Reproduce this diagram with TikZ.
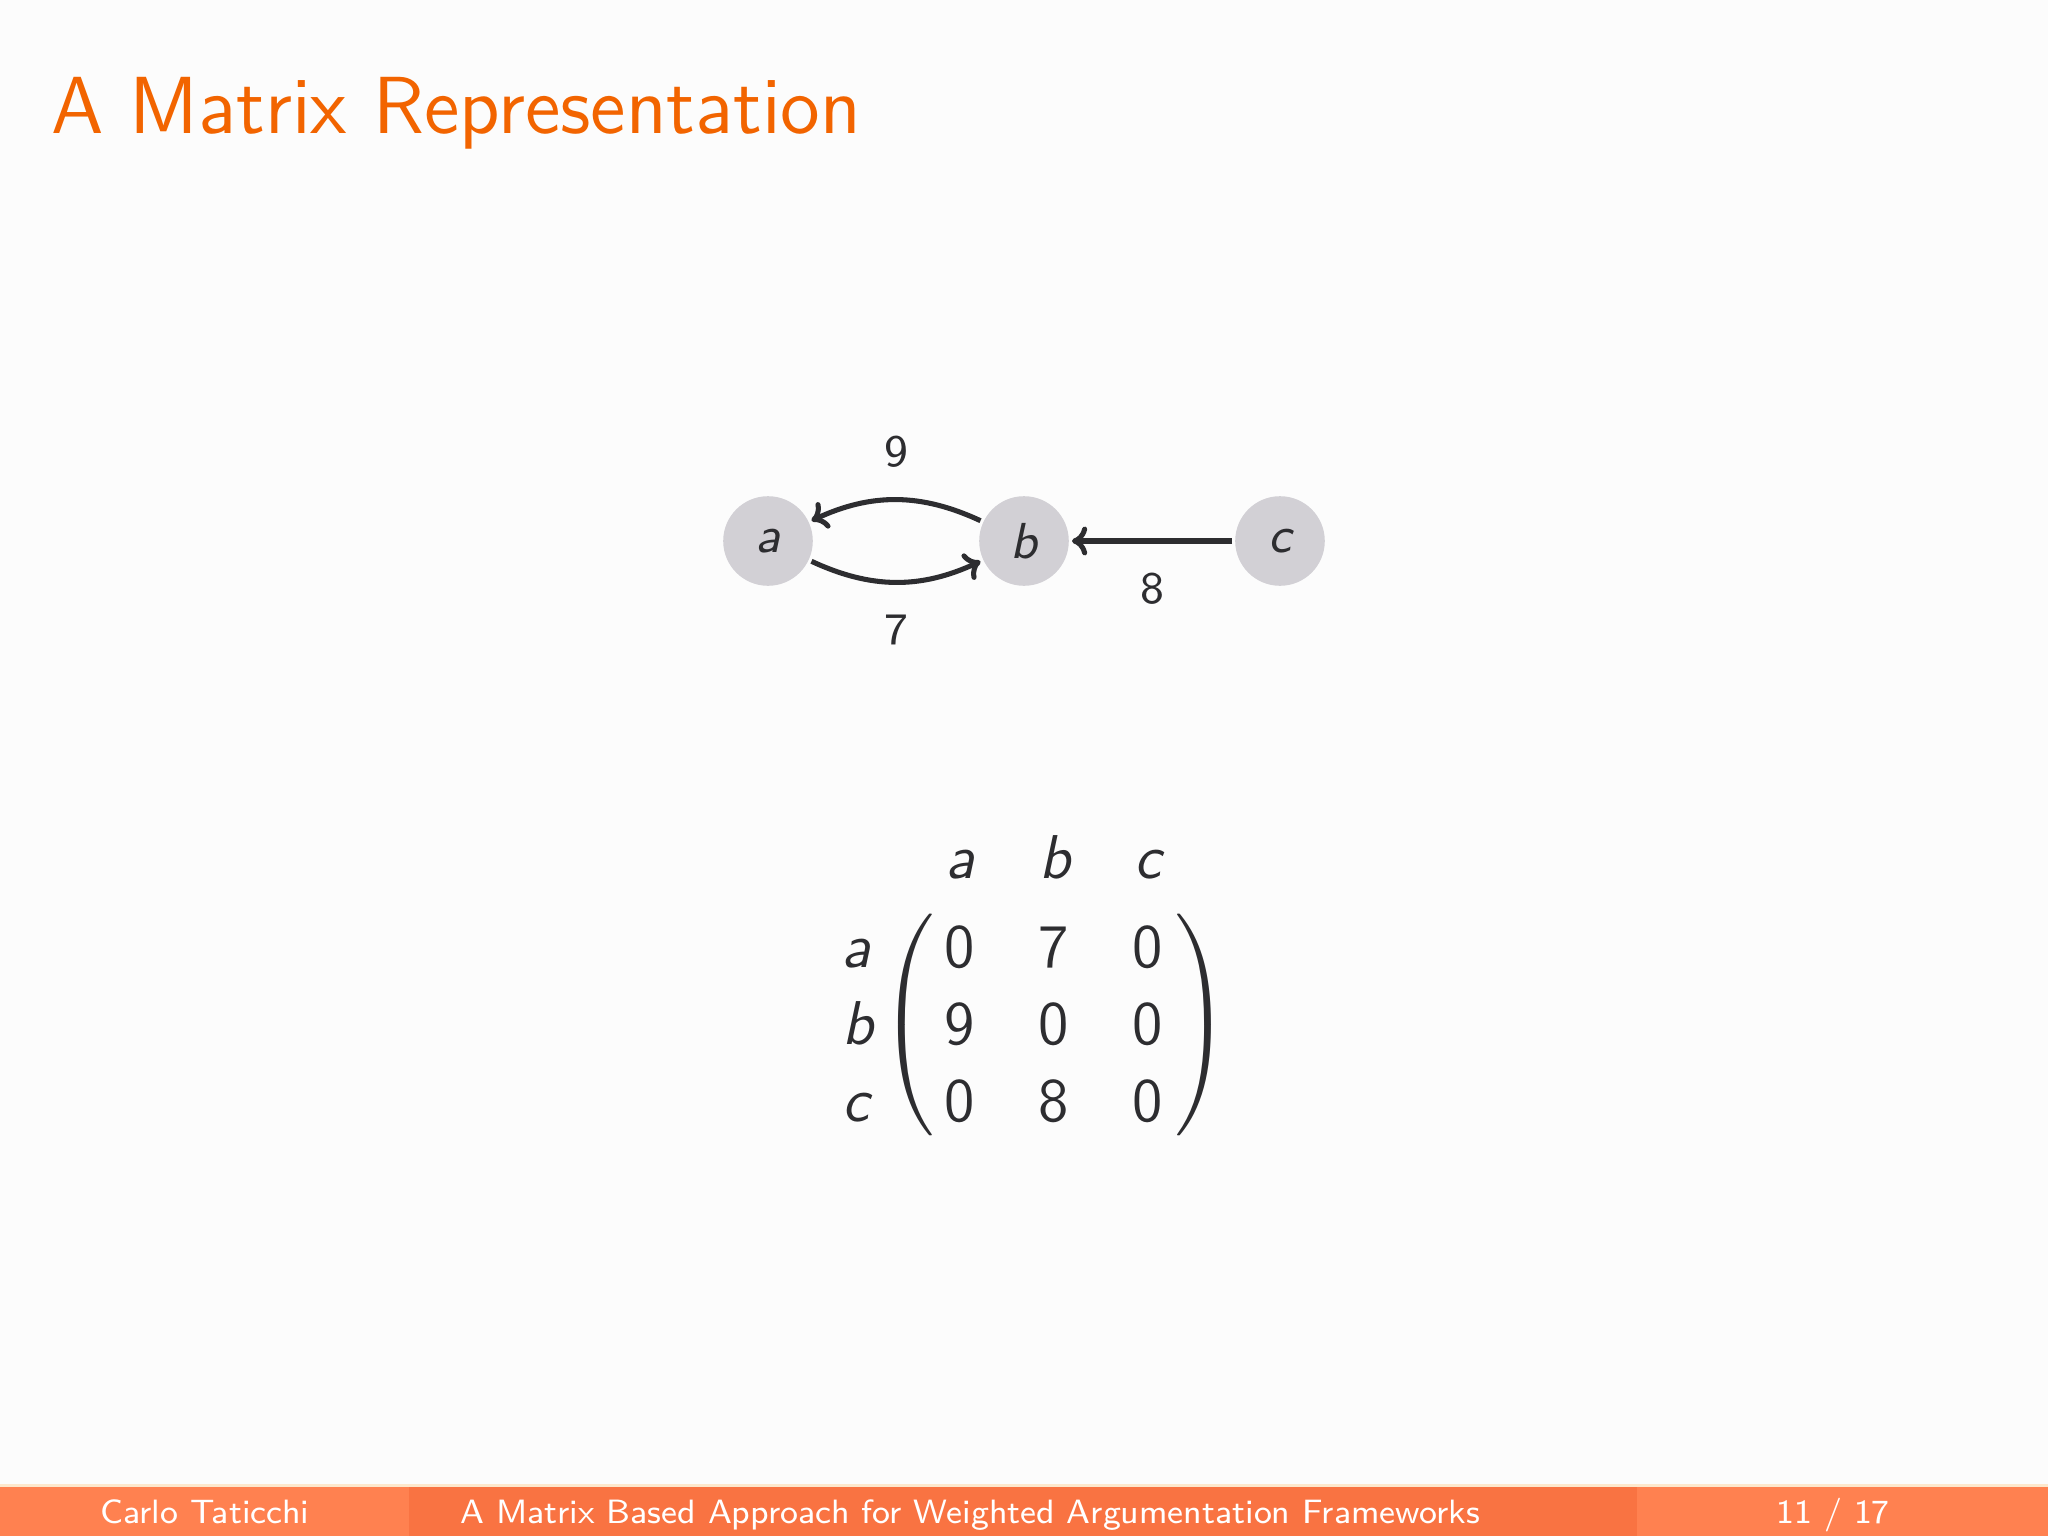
\documentclass[tikz,border=0pt]{standalone}
\usepackage{amsmath}
\usetikzlibrary{arrows.meta}
\definecolor{bgcol}{RGB}{252,252,252}
\definecolor{titleorange}{RGB}{242,100,0}
\definecolor{footlight}{RGB}{255,129,80}
\definecolor{footdark}{RGB}{249,115,66}
\definecolor{footline}{RGB}{253,232,205}
\definecolor{nodegray}{RGB}{210,208,213}
\definecolor{ink}{RGB}{45,45,48}
\tikzset{
  arg/.style={circle, fill=nodegray, minimum size=5.6mm, inner sep=0pt, outer sep=0.2mm,
    text=ink, font=\sffamily\fontsize{9}{11}\selectfont\slshape},
  edge/.style={draw=ink, line width=0.9pt, -{Computer Modern Rightarrow[width=1.8mm,length=0.95mm]}},
  lbl/.style={text=ink, font=\sffamily\fontsize{8}{10}\selectfont, inner sep=0pt},
  mtx/.style={text=ink, font=\sffamily\fontsize{11}{13.6}\selectfont, inner sep=0pt},
  mlet/.style={mtx, font=\sffamily\fontsize{11}{13.6}\selectfont\slshape},
  paren/.style={text=ink, inner sep=0pt, font=\fontsize{11}{13.6}\selectfont},
  foot/.style={text=white, font=\sffamily\fontsize{6}{7}\selectfont, inner sep=0pt}
}
\newcommand{\parenbody}{\vcenter{\hbox{\rule{0pt}{38pt}}}}
\begin{document}
\begin{tikzpicture}[x=0.0625mm, y=-0.0625mm]
\useasboundingbox (0,0) rectangle (2048,1536);
\fill[bgcol] (0,0) rectangle (2048,1536);

% title
\node[anchor=base west, inner sep=0pt, text=titleorange,
  font=\sffamily\fontsize{14.4}{17}\selectfont] (title) at (50,133) {A Matrix Representation};

% graph
\node[arg] (a) at (768,541) {a};
\node[arg] (b) at (1024,541) {b};
\node[arg] (c) at (1280,541) {c};
\draw[edge] (b) to[bend right=25] node[lbl, yshift=3mm] (l9) {9} (a);
\draw[edge] (a) to[bend right=25] node[lbl, yshift=-3mm] (l7) {7} (b);
\draw[edge] (c) -- node[lbl, yshift=-3mm] (l8) {8} (b);

% matrix headers
\node[mlet, anchor=base] (ha) at (960,878) {a};
\node[mlet, anchor=base] (hb) at (1055,878) {b};
\node[mlet, anchor=base] (hc) at (1148,878) {c};
% row labels
\node[mlet, anchor=base] (ra) at (856,967) {a};
\node[mlet, anchor=base] (rb) at (858,1044) {b};
\node[mlet, anchor=base] (rc) at (856,1121) {c};
% entries
\node[mtx, anchor=base] (m11) at (960,967) {0};
\node[mtx, anchor=base] (m12) at (1054,967) {7};
\node[mtx, anchor=base] (m13) at (1148,967) {0};
\node[mtx, anchor=base] (m21) at (960,1044) {9};
\node[mtx, anchor=base] (m22) at (1054,1044) {0};
\node[mtx, anchor=base] (m23) at (1148,1044) {0};
\node[mtx, anchor=base] (m31) at (960,1121) {0};
\node[mtx, anchor=base] (m32) at (1054,1121) {8};
\node[mtx, anchor=base] (m33) at (1148,1121) {0};
% parentheses
\node[paren] (lp) at (907,1025) {\nulldelimiterspace=0pt$\left(\parenbody\right.$};
\node[paren] (rp) at (1202,1025) {\nulldelimiterspace=0pt$\left.\parenbody\right)$};

% footer
\fill[footlight] (0,1486) rectangle (409,1536);
\fill[footdark] (409,1486) rectangle (1637,1536);
\fill[footlight] (1637,1486) rectangle (2048,1536);
\fill[footline] (0,1484) rectangle (2048,1487);
\node[foot, anchor=base] (author) at (205,1523) {Carlo Taticchi};
\node[foot, anchor=base] (ftitle) at (970,1523) {A Matrix Based Approach for Weighted Argumentation Frameworks};
\node[foot, anchor=base east] (page) at (1891,1523) {11 / 17};
\end{tikzpicture}
\end{document}
